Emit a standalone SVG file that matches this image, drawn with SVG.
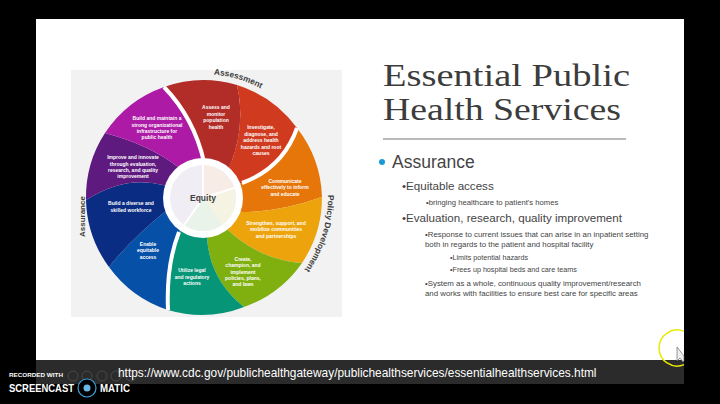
<svg xmlns="http://www.w3.org/2000/svg" width="720" height="404" viewBox="0 0 720 404">
<style>
.w{font-family:"Liberation Sans",Arial,sans-serif;font-weight:700;font-size:5px;fill:#fff;text-anchor:middle}
.l{font-family:"Liberation Sans",Arial,sans-serif;font-weight:700;font-size:8.400px;fill:#3c3c3c}
.b{font-family:"Liberation Sans",Arial,sans-serif;fill:#444}
.t{font-family:"Liberation Serif",serif;font-size:32.500px;fill:#3c3c3c}
.gap{fill:none;stroke:#fff;stroke-width:4}
.i{fill:none;stroke:#555;stroke-width:.7}
</style>
<defs>
<path id="arcA" d="M213.7 74.5A123 123 0 0 1 309.5 135.5"/>
<path id="arcP" d="M328 195A125 125 0 0 1 224.7 320"/>
</defs>
<rect width="720" height="404" fill="#000"/>
<rect x="36" y="19" width="648" height="342" fill="#fff"/>
<rect x="36" y="360" width="648" height="24" fill="#2b2b2b"/>
<rect x="71" y="70" width="271" height="247" fill="#f2f2f2"/>
<g id="wheel">
<path id="s-red1" fill="#b22c28" d="M203 197L204 162Q194 118 164 87Q200 74 237 85Q247 129 227 173Z"/>
<path id="s-red2" fill="#d03b20" d="M203 197L227 173Q247 129 237 85A118 118 0 0 1 297 128Q283 168 242 183Z"/>
<path id="s-orange" fill="#e6760a" d="M203 197L242 183Q283 168 297 128A118 118 0 0 1 322 197Q280 212 242 212Z"/>
<path id="s-yellow" fill="#eda40c" d="M203 197L242 212Q280 212 322 197A118 118 0 0 1 302 263Q260 260 228 230Z"/>
<path id="s-green" fill="#7fb00f" d="M203 197L228 230Q260 260 302 263A118 118 0 0 1 244 307Q210 280 207 238Z"/>
<path id="s-teal" fill="#069577" d="M203 197L207 238Q210 280 244 307A118 118 0 0 1 168 310Q166 265 179 232Z"/>
<path id="s-blue" fill="#0650a8" d="M203 197L179 232Q166 265 168 310A118 118 0 0 1 109 267Q130 240 167 210Z"/>
<path id="s-navy" fill="#0a2c82" d="M203 197L167 210Q130 240 109 267A118 118 0 0 1 86 200Q125 175 163 185Z"/>
<path id="s-purple" fill="#5f1a80" d="M203 197L163 185Q125 175 86 200A118 118 0 0 1 105 133Q150 145 178 167Z"/>
<path id="s-magenta" fill="#ad1aa6" d="M203 197L178 167Q150 145 105 133A118 118 0 0 1 164 87Q194 118 204 162Z"/>
<path class="gap" d="M164 87Q194 118 204 162"/>
<path class="gap" d="M297 128Q283 168 242 183"/>
<path class="gap" d="M168 310Q166 265 179 232"/>
<circle cx="203" cy="198" r="40" fill="#fff"/>
<circle cx="203" cy="198" r="33" fill="#f0edf5"/>
<path fill="#f7ece6" d="M203 198V165A33 33 0 0 1 234 188Z"/>
<path fill="#f5f3e2" d="M203 198L234 188A33 33 0 0 1 222 225Z"/>
<path fill="#eaf3ea" d="M203 198L222 225A33 33 0 0 1 184 225Z"/>
<path d="M203 198V165M203 198L234 188M184 225L203 198" stroke="#fff" stroke-width="2" fill="none"/>
</g>
<g id="wheel-labels">
<text x="203" y="201" font-family="Liberation Sans,sans-serif" font-weight="700" font-size="8.500" fill="#404040" text-anchor="middle">Equity</text>
<text class="w"><tspan x="216" y="109">Assess and</tspan><tspan x="216" y="115.500">monitor</tspan><tspan x="216" y="122">population</tspan><tspan x="216" y="128.500">health</tspan></text>
<text class="w"><tspan x="261" y="129">Investigate,</tspan><tspan x="261" y="135.500">diagnose, and</tspan><tspan x="261" y="142">address health</tspan><tspan x="261" y="148.500">hazards and root</tspan><tspan x="261" y="154.500">causes</tspan></text>
<text class="w"><tspan x="285" y="183">Communicate</tspan><tspan x="285" y="189">effectively to inform</tspan><tspan x="285" y="195.500">and educate</tspan></text>
<text class="w"><tspan x="276" y="225">Strengthen, support, and</tspan><tspan x="276" y="231">mobilize communities</tspan><tspan x="276" y="237.500">and partnerships</tspan></text>
<text class="w"><tspan x="243" y="261">Create,</tspan><tspan x="243" y="267">champion, and</tspan><tspan x="243" y="273.500">implement</tspan><tspan x="243" y="280">policies, plans,</tspan><tspan x="243" y="286">and laws</tspan></text>
<text class="w"><tspan x="192" y="272">Utilize legal</tspan><tspan x="192" y="278.500">and regulatory</tspan><tspan x="192" y="284.500">actions</tspan></text>
<text class="w"><tspan x="148" y="246">Enable</tspan><tspan x="148" y="252">equitable</tspan><tspan x="148" y="258.500">access</tspan></text>
<text class="w"><tspan x="131" y="205">Build a diverse and</tspan><tspan x="131" y="211.500">skilled workforce</tspan></text>
<text class="w"><tspan x="133" y="159">Improve and innovate</tspan><tspan x="133" y="165.500">through evaluation,</tspan><tspan x="133" y="172">research, and quality</tspan><tspan x="133" y="178">improvement</tspan></text>
<text class="w"><tspan x="157" y="120">Build and maintain a</tspan><tspan x="157" y="126.500">strong organizational</tspan><tspan x="157" y="133">infrastructure for</tspan><tspan x="157" y="139">public health</tspan></text>
<text class="l"><textPath href="#arcA">Assessment</textPath></text>
<text class="l"><textPath href="#arcP">Policy Development</textPath></text>
<text class="l" style="font-size:8px" transform="translate(85 237) rotate(-90)">Assurance</text>
</g>
<g id="slide-text">
<text class="t" x="383" y="86" textLength="247" lengthAdjust="spacingAndGlyphs">Essential Public</text>
<text class="t" x="383" y="120" textLength="238" lengthAdjust="spacingAndGlyphs">Health Services</text>
<rect x="383" y="138.500" width="243" height="1" fill="#777"/>
<circle cx="382" cy="162" r="3" fill="#1c9ad6"/>
<text class="b" x="392" y="168" font-size="17.500">Assurance</text>
<text class="b" x="402" y="190" font-size="11.600">•Equitable access</text>
<text class="b" x="426" y="205" font-size="7.700">•bringing healthcare to patient's homes</text>
<text class="b" x="402" y="222" font-size="11.600">•Evaluation, research, quality improvement</text>
<text class="b" x="425" y="237" font-size="7.850">•Response to current issues that can arise in an inpatient setting</text>
<text class="b" x="425" y="247" font-size="7.850">both in regards to the patient and hospital facility</text>
<text class="b" x="450" y="260" font-size="7.200">•Limits potential hazards</text>
<text class="b" x="450" y="272" font-size="7.200">•Frees up hospital beds and care teams</text>
<text class="b" x="425" y="286" font-size="7.850">•System as a whole, continuous quality improvement/research</text>
<text class="b" x="425" y="296" font-size="7.850">and works with facilities to ensure best care for specific areas</text>
</g>
<g id="recorder">
<path d="M684 331.400A18 18 0 1 0 684 364.600" fill="none" stroke="#e8e800" stroke-width="1.500"/>
<path d="M677 347V361L680 358L683 362L684 361V356Z" fill="#eee" stroke="#555" stroke-width=".6"/>
<circle class="i" cx="73" cy="376" r="5"/><circle class="i" cx="87" cy="376" r="5"/><circle class="i" cx="102" cy="376" r="5"/><circle class="i" cx="116" cy="376" r="5"/><circle class="i" cx="131" cy="376" r="5"/>
<text x="118" y="377" font-family="Liberation Sans,sans-serif" font-size="11.900" fill="#fff">https://www.cdc.gov/publichealthgateway/publichealthservices/essentialhealthservices.html</text>
<text x="9" y="377" font-family="Liberation Sans,sans-serif" font-weight="700" font-size="5.500" fill="#fff" textLength="54" lengthAdjust="spacingAndGlyphs">RECORDED WITH</text>
<text x="9" y="392" font-family="Liberation Sans,sans-serif" font-weight="700" font-size="10" fill="#fff" textLength="65" lengthAdjust="spacingAndGlyphs">SCREENCAST</text>
<circle cx="87" cy="388" r="9" fill="#000" stroke="#3a9fd8" stroke-width="1.200"/>
<circle cx="87" cy="388" r="3.500" fill="#69b7e6"/>
<text x="100" y="392" font-family="Liberation Sans,sans-serif" font-weight="700" font-size="10" fill="#fff" textLength="30" lengthAdjust="spacingAndGlyphs">MATIC</text>
</g>
</svg>
